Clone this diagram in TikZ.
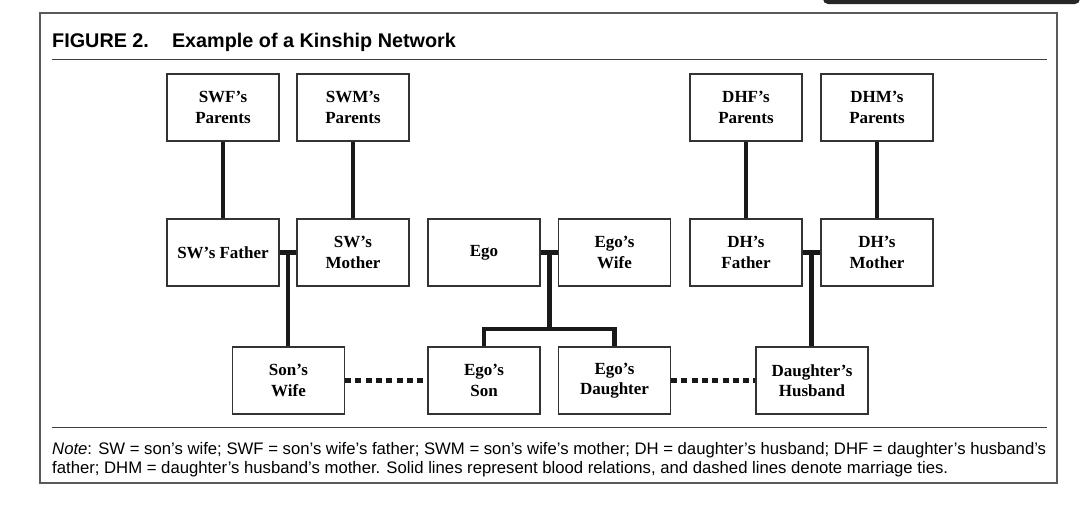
\documentclass[tikz,border=0pt]{standalone}
\usepackage{fontspec}
\usetikzlibrary{calc}
\setmainfont{Liberation Serif}
\setsansfont{Liberation Sans}
\begin{document}
\begin{tikzpicture}[x=1pt,y=-1pt,
  person/.style={draw=black!80, line width=1.1pt, minimum width=112pt, minimum height=67pt,
    inner sep=0pt, align=center, font=\fontsize{17}{20.5}\selectfont\bfseries},
  blood/.style={line width=4.5pt, black!90},
  marr/.style={line width=4.2pt, black!90, dash pattern=on 6pt off 4.3pt},
  frame/.style={draw=black!65, line width=1.4pt},
  rule/.style={draw=black!75, line width=1pt}]
\useasboundingbox (0,0) rectangle (1080,514);
% screenshot bar top right
\fill[black!85] (823,-6) [rounded corners=5pt] -- (823,4) -- (1080,4) [sharp corners] -- (1080,-6) -- cycle;
% frame
\draw[frame] (40,13) rectangle (1057,483);
\node[anchor=base west, font=\fontsize{19.8}{23}\selectfont\sffamily\bfseries, inner sep=0pt] (title) at (52,47) {FIGURE 2.\hspace{23pt}Example of a Kinship Network};
\draw[rule] (52,59) -- (1047,59);
\draw[rule] (52,427) -- (1047,427);
% persons
\node[person] (swfp) at (223,107.5) {SWF’s\\Parents};
\node[person] (swmp) at (353,107.5) {SWM’s\\Parents};
\node[person] (dhfp) at (746,107.5) {DHF’s\\Parents};
\node[person] (dhmp) at (877,107.5) {DHM’s\\Parents};
\node[person] (swf) at (223,252.5) {SW’s Father};
\node[person] (swm) at (353,252.5) {SW’s\\Mother};
\node[person] (ego) at (484,252.5) {Ego};
\node[person] (egow) at (614.5,252.5) {Ego’s\\Wife};
\node[person] (dhf) at (746,252.5) {DH’s\\Father};
\node[person] (dhm) at (877,252.5) {DH’s\\Mother};
\node[person] (sonw) at (288.5,380.5) {Son’s\\Wife};
\node[person] (egos) at (484,380.5) {Ego’s\\Son};
\node[person] (egod) at (614.5,380.5) {Ego’s\\Daughter};
\node[person] (dhus) at (812,380.5) {Daughter’s\\Husband};
% blood lines
\draw[blood] (swfp) -- (swf);
\draw[blood] (swmp) -- (swm);
\draw[blood] (dhfp) -- (dhf);
\draw[blood] (dhmp) -- (dhm);
\draw[blood] (swf.east) -- coordinate[midway] (m1) (swm.west);
\draw[blood] (m1) -- (m1 |- sonw.north);
\draw[blood] (ego.east) -- coordinate[midway] (m2) (egow.west);
\coordinate (j) at ($(m2)+(0,76.5)$);
\draw[blood] (m2) -- (j);
\draw[blood] (egos.north) |- (j) -| (egod.north);
\draw[blood] (dhf.east) -- coordinate[midway] (m3) (dhm.west);
\draw[blood] (m3) -- (m3 |- dhus.north);
% marriages
\draw[marr] (sonw.east) -- (egos.west);
\draw[marr] (egod.east) -- (dhus.west);
% note
\node[anchor=north west, inner sep=0pt, align=left, font=\fontsize{16.7}{19}\selectfont\sffamily] (note) at (52,442)
 {\textit{Note}: SW = son’s wife; SWF = son’s wife’s father; SWM = son’s wife’s mother; DH = daughter’s husband; DHF = daughter’s husband’s\\
 father; DHM = daughter’s husband’s mother. Solid lines represent blood relations, and dashed lines denote marriage ties.};
\end{tikzpicture}
\end{document}
